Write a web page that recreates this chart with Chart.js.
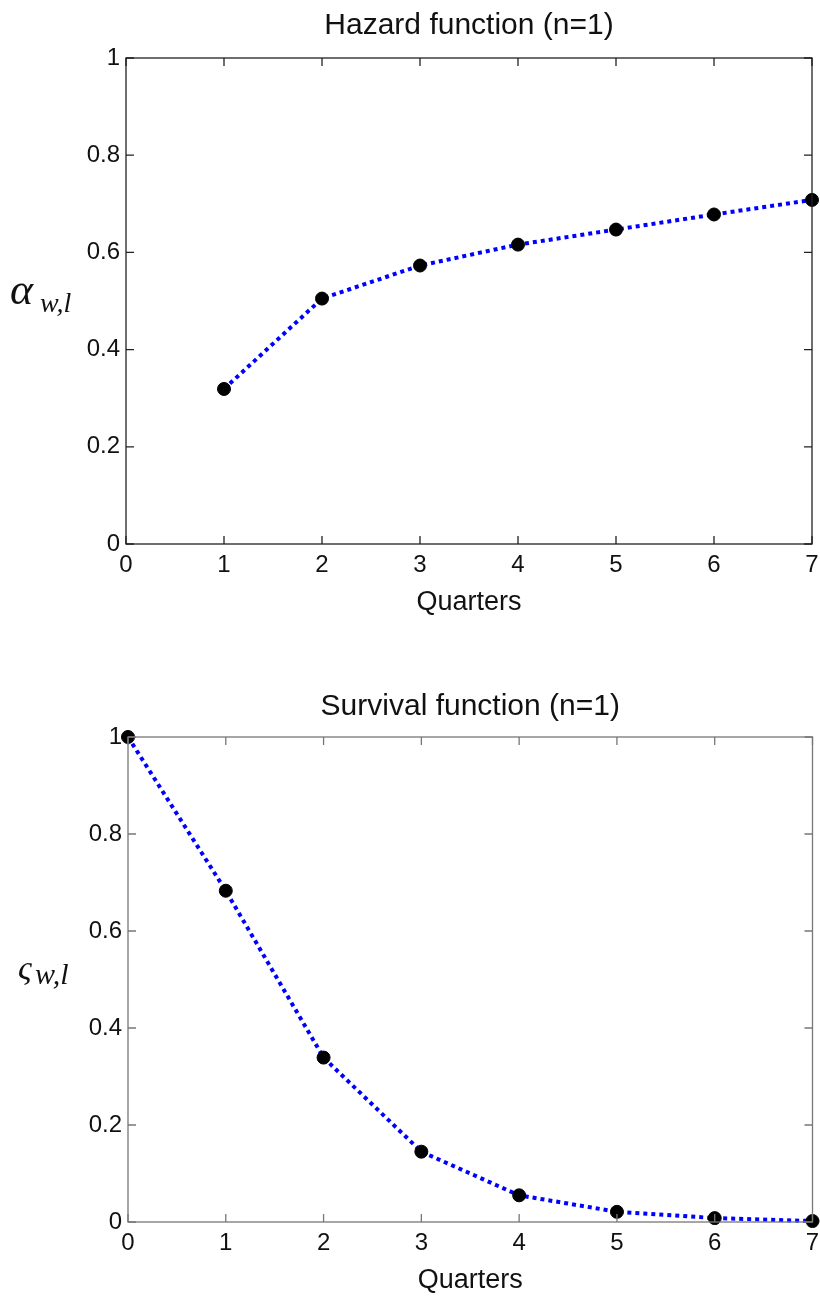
<!DOCTYPE html>
<html>
<head>
<meta charset="utf-8">
<script src="https://cdn.jsdelivr.net/npm/chart.js@4.4.1/dist/chart.umd.min.js"></script>
<style>
  body { margin: 0; background: #fff; }
  .box { width: 820px; height: 651px; }
</style>
</head>
<body>
<div class="box"><canvas id="hazard" width="820" height="651"></canvas></div>
<div class="box"><canvas id="survival" width="820" height="651"></canvas></div>
<script>
// values
var hazardQuarters = [1, 2, 3, 4, 5, 6, 7];
var hazardValues = [0.319, 0.505, 0.573, 0.616, 0.647, 0.678, 0.708];
var survivalQuarters = [0, 1, 2, 3, 4, 5, 6, 7];
var survivalValues = [1.0, 0.683, 0.339, 0.145, 0.055, 0.021, 0.008, 0.002];
var xTicks = [0, 1, 2, 3, 4, 5, 6, 7];
var yTicks = [0, 0.2, 0.4, 0.6, 0.8, 1];
var yTickLabels = ["0", "0.2", "0.4", "0.6", "0.8", "1"];

var sans = "'Liberation Sans', Arial, sans-serif";
var serif = "'Liberation Serif', 'DejaVu Serif', serif";

function toPoints(xs, ys) {
  var pts = [];
  for (var i = 0; i < xs.length; i++) {
    pts.push({ x: xs[i], y: ys[i] });
  }
  return pts;
}

// MATLAB style box with ticks pointing inwards + the math y label
function frameAndLabel(frameColor, symbol) {
  return {
    id: "frame",
    afterDraw: function(chart) {
      var ctx = chart.ctx;
      var a = chart.chartArea;
      var xs = chart.scales.x;
      var ys = chart.scales.y;
      ctx.save();
      ctx.strokeStyle = frameColor;
      ctx.lineWidth = 1.3;
      ctx.strokeRect(a.left, a.top, a.right - a.left, a.bottom - a.top);
      ctx.beginPath();
      for (var i = 0; i < xTicks.length; i++) {
        var px = xs.getPixelForValue(xTicks[i]);
        ctx.moveTo(px, a.bottom);
        ctx.lineTo(px, a.bottom - 8);
        ctx.moveTo(px, a.top);
        ctx.lineTo(px, a.top + 8);
      }
      for (var j = 0; j < yTicks.length; j++) {
        var py = ys.getPixelForValue(yTicks[j]);
        ctx.moveTo(a.left, py);
        ctx.lineTo(a.left + 8, py);
        ctx.moveTo(a.right, py);
        ctx.lineTo(a.right - 8, py);
      }
      ctx.stroke();

      var mid = (a.top + a.bottom) / 2;
      ctx.fillStyle = "#111";
      ctx.textBaseline = "alphabetic";
      ctx.textAlign = "left";
      if (symbol == "alpha") {
        ctx.font = "italic 44px " + serif;
        ctx.fillText("\u03B1", 10, mid + 3);
        ctx.font = "italic 28px " + serif;
        ctx.fillText("w,l", 40, mid + 11);
      } else {
        ctx.font = "italic 34px " + serif;
        ctx.fillText("\u03C2", 18, mid - 1);
        ctx.font = "italic 30px " + serif;
        ctx.fillText("w,l", 35, mid + 4);
      }
      ctx.restore();
    }
  };
}

function makeChart(canvasId, title, xs, ys, opts) {
  var ctx = document.getElementById(canvasId).getContext("2d");
  return new Chart(ctx, {
    type: "line",
    data: {
      datasets: [
        {
          data: toPoints(xs, ys),
          borderColor: "#0000ff",
          borderWidth: 4,
          borderDash: [4, 4],
          borderCapStyle: "butt",
          tension: 0,
          fill: false,
          pointRadius: 6.5,
          pointBackgroundColor: "#000",
          pointBorderColor: "#000",
          pointBorderWidth: 1,
          clip: false
        }
      ]
    },
    options: {
      responsive: false,
      animation: false,
      layout: {
        padding: { left: 0, right: opts.right, top: 0, bottom: opts.bottom }
      },
      plugins: {
        legend: { display: false },
        tooltip: { enabled: false },
        title: {
          display: true,
          fullSize: false,
          text: title,
          color: "#111",
          font: { family: sans, size: 30, weight: "normal" },
          padding: { top: opts.titleTop, bottom: opts.titleBottom }
        }
      },
      scales: {
        x: {
          type: "linear",
          min: 0,
          max: 7,
          afterBuildTicks: function(scale) {
            scale.ticks = xTicks.map(function(v) { return { value: v }; });
          },
          afterFit: function(scale) {
            scale.height = 75;
            scale.paddingLeft = 0;
            scale.paddingRight = 0;
          },
          grid: { display: false, drawTicks: false },
          border: { display: false },
          ticks: {
            color: "#111",
            padding: 7,
            maxRotation: 0,
            font: { family: sans, size: 24 }
          },
          title: {
            display: true,
            text: "Quarters",
            color: "#111",
            font: { family: sans, size: 27 },
            padding: { top: 0, bottom: 0 }
          }
        },
        y: {
          min: 0,
          max: 1,
          afterBuildTicks: function(scale) {
            scale.ticks = yTicks.map(function(v) { return { value: v }; });
          },
          afterFit: function(scale) {
            scale.width = opts.left;
            scale.paddingTop = 0;
            scale.paddingBottom = 0;
          },
          grid: { display: false, drawTicks: false },
          border: { display: false },
          ticks: {
            color: "#111",
            padding: 6,
            font: { family: sans, size: 24 },
            callback: function(value, index) {
              return yTickLabels[index];
            }
          }
        }
      }
    },
    plugins: [frameAndLabel(opts.frame, opts.symbol)]
  });
}

makeChart("hazard", "Hazard function (n=1)", hazardQuarters, hazardValues, {
  left: 126, right: 8, bottom: 32, titleTop: 8, titleBottom: 14,
  frame: "#222", symbol: "alpha"
});
makeChart("survival", "Survival function (n=1)", survivalQuarters, survivalValues, {
  left: 128, right: 5, bottom: 5, titleTop: 38, titleBottom: 12,
  frame: "#777", symbol: "sigma"
});
</script>
</body>
</html>
